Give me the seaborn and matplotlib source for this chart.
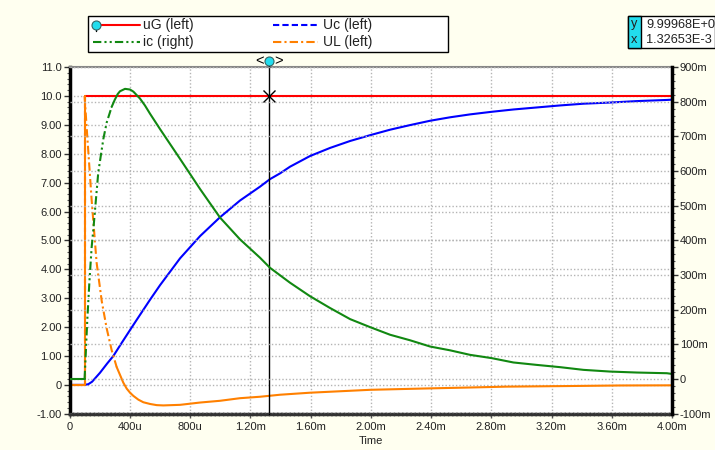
import numpy as np
import seaborn as sns
import matplotlib
matplotlib.use("Agg")
import matplotlib.pyplot as plt
from matplotlib.ticker import FixedLocator, FixedFormatter, AutoMinorLocator
from matplotlib.lines import Line2D
from matplotlib.patches import Rectangle
from matplotlib.transforms import blended_transform_factory

# ---------------- data (time in ms) ----------------
STEP_T = 0.1

t_uG = [0.0, 0.1, 0.1, 4.0]
uG = [0.0, 0.0, 10.0, 10.0]

t_Uc = [0.0, 0.1, 0.125, 0.15, 0.2025, 0.25, 0.291, 0.346, 0.402, 0.446, 0.535,
        0.601, 0.734, 0.867, 0.999, 1.132, 1.265, 1.331, 1.398, 1.464, 1.597,
        1.730, 1.863, 1.995, 2.128, 2.261, 2.394, 2.527, 2.659, 2.803, 2.947,
        3.102, 3.257, 3.412, 3.589, 3.766, 3.966, 4.0]
Uc = [0.0, 0.0, 0.025, 0.11, 0.42, 0.74, 1.0, 1.45, 1.9, 2.25, 2.95,
      3.45, 4.38, 5.15, 5.8, 6.38, 6.86, 7.12, 7.32, 7.55, 7.92,
      8.2, 8.44, 8.64, 8.83, 8.99, 9.14, 9.26, 9.36, 9.45, 9.53,
      9.6, 9.67, 9.73, 9.77, 9.82, 9.86, 9.87]

t_ic = [0.0, 0.1, 0.107, 0.118, 0.132, 0.147, 0.158, 0.191, 0.2245, 0.247,
        0.28, 0.30, 0.32, 0.335, 0.3685, 0.402, 0.424, 0.468, 0.501, 0.535,
        0.601, 0.734, 0.867, 0.999, 1.132, 1.265, 1.331, 1.464, 1.597, 1.730,
        1.863, 1.995, 2.128, 2.261, 2.394, 2.527, 2.659, 2.803, 2.947, 3.102,
        3.257, 3.412, 3.589, 3.766, 3.966, 4.0]
ic = [0.0, 0.0, 0.065, 0.17, 0.28, 0.38, 0.43, 0.596, 0.692, 0.740,
      0.785, 0.805, 0.822, 0.830, 0.837, 0.835, 0.829, 0.809, 0.789, 0.765,
      0.721, 0.635, 0.548, 0.466, 0.403, 0.350, 0.321, 0.278, 0.239, 0.205,
      0.173, 0.150, 0.128, 0.112, 0.094, 0.083, 0.070, 0.0605, 0.048, 0.041,
      0.0345, 0.0267, 0.0218, 0.019, 0.017, 0.015]

t_UL = [0.0, 0.1, 0.1, 0.114, 0.147, 0.180, 0.214, 0.247, 0.280, 0.313,
        0.357, 0.380, 0.402, 0.424, 0.457, 0.490, 0.535, 0.579, 0.623, 0.734,
        0.867, 0.999, 1.132, 1.265, 1.398, 1.597, 1.995, 2.394, 2.659, 2.90,
        3.30, 3.655, 4.0]
UL = [0.0, 0.0, 10.0, 8.9, 6.4, 4.23, 2.9, 1.95, 1.2, 0.62,
      0.08, -0.13, -0.27, -0.38, -0.51, -0.60, -0.66, -0.70, -0.71, -0.69,
      -0.61, -0.55, -0.46, -0.41, -0.34, -0.27, -0.17, -0.12, -0.09, -0.06,
      -0.04, -0.02, -0.015]

cursor_t = 1.32653
cursor_y = 9.99968
readout_y = "9.99968E+0"
readout_x = "1.32653E-3"

x_ticks = [0.0, 0.4, 0.8, 1.2, 1.6, 2.0, 2.4, 2.8, 3.2, 3.6, 4.0]
x_labels = ["0", "400u", "800u", "1.20m", "1.60m", "2.00m", "2.40m",
            "2.80m", "3.20m", "3.60m", "4.00m"]
left_ticks = list(range(-1, 12))
left_labels = ["-1.00", "0", "1.00", "2.00", "3.00", "4.00", "5.00", "6.00",
               "7.00", "8.00", "9.00", "10.0", "11.0"]
right_ticks = [-0.1, 0.0, 0.1, 0.2, 0.3, 0.4, 0.5, 0.6, 0.7, 0.8, 0.9]
right_labels = ["-100m", "0", "100m", "200m", "300m", "400m", "500m",
                "600m", "700m", "800m", "900m"]

legend_names = ["uG (left)", "Uc (left)", "ic (right)", "UL (left)"]

# ---------------- style ----------------
BG = "#FFFFF0"
RED, BLUE, GREEN, ORANGE = "#FF0000", "#0000FF", "#118811", "#FF8000"
LW = 1.5
DASH_DOT_DOT = (0, (4, 1.5, 1, 1.5, 1, 1.5))
DASH_DOT = (0, (4, 1.5, 1, 1.5))
DASHED = (0, (2, 1.5))
TXT = "#222222"

sns.set_theme(style="white")
plt.rcParams['font.family'] = ['Liberation Sans', 'DejaVu Sans']
plt.rcParams['font.size'] = 8

W, H = 715, 450
fig = plt.figure(figsize=(W / 100, H / 100), dpi=100, facecolor=BG)


def fx(px):
    return px / W


def fy(py):
    return 1 - py / H


ax = fig.add_axes([fx(69.5), fy(413.8), fx(672) - fx(69.5), fy(67) - fy(413.8)])
ax.set_facecolor("white")
ax2 = ax.twinx()


def line(axis, t, v, color, ls="-"):
    sns.lineplot(x=np.asarray(t), y=np.asarray(v), ax=axis, color=color,
                 linewidth=LW, linestyle=ls, estimator=None, sort=False,
                 legend=False)


def split_step(t, v, dash_end):
    t = np.asarray(t)
    v = np.asarray(v)
    i0 = int(np.flatnonzero(t == STEP_T)[-1])
    i1 = int(np.searchsorted(t, dash_end))
    return (t[:i0 + 1], v[:i0 + 1]), (t[i0:i1 + 1], v[i0:i1 + 1]), (t[i1:], v[i1:])


# uG: flat, dashed rising edge, flat
tg, vg = np.asarray(t_uG), np.asarray(uG)
line(ax, tg[:2], vg[:2], RED)
line(ax, tg[1:3], vg[1:3], RED, DASHED)
line(ax, tg[2:], vg[2:], RED)

# Uc
line(ax, t_Uc, Uc, BLUE)

# UL: steep part drawn with its dash-dot pattern
pre, steep, rest = split_step(t_UL, UL, 0.313)
line(ax, *pre, ORANGE)
line(ax, *steep, ORANGE, DASH_DOT)
line(ax, *rest, ORANGE)

# ic on the right axis
pre, steep, rest = split_step(t_ic, ic, 0.28)
line(ax2, *pre, GREEN)
line(ax2, *steep, GREEN, DASH_DOT_DOT)
line(ax2, *rest, GREEN)

# ---------------- axes ----------------
ax.set_xlim(0, 4.0)
ax.set_ylim(-1.0, 11.0)
ax2.set_ylim(-0.1, 0.9)

ax.xaxis.set_major_locator(FixedLocator(x_ticks))
ax.xaxis.set_major_formatter(FixedFormatter(x_labels))
ax.yaxis.set_major_locator(FixedLocator(left_ticks))
ax.yaxis.set_major_formatter(FixedFormatter(left_labels))
ax.yaxis.set_minor_locator(AutoMinorLocator(5))
ax2.yaxis.set_major_locator(FixedLocator(right_ticks))
ax2.yaxis.set_major_formatter(FixedFormatter(right_labels))
ax2.yaxis.set_minor_locator(AutoMinorLocator(5))

grid_kw = dict(color="#b4b4b4", linestyle=(0, (1, 1.5)), linewidth=1.0)
ax.grid(True, which="major", axis="both", **grid_kw)
ax2.grid(True, which="major", axis="y", **grid_kw)
ax.set_axisbelow(True)
ax2.set_axisbelow(True)

ax.tick_params(axis="y", which="major", direction="out", length=4, width=1,
               color="#333333", labelcolor=TXT, labelsize=8, pad=1.5, left=True)
ax.tick_params(axis="y", which="minor", direction="out", length=2.5, width=0.8,
               color="#555555", left=True)
ax.tick_params(axis="x", which="major", direction="out", length=3, width=1,
               color="#555555", labelcolor=TXT, labelsize=8, pad=3, bottom=True)
ax2.tick_params(axis="y", which="major", direction="out", length=4, width=1,
                color="#333333", labelcolor=TXT, labelsize=8, pad=1.5, right=True)
ax2.tick_params(axis="y", which="minor", direction="out", length=2.5, width=0.8,
                color="#555555", right=True)
ax.set_xlabel("Time", fontsize=8, color=TXT, labelpad=3)
ax.set_ylabel("")
ax2.set_ylabel("")

for name in ("top", "right", "bottom", "left"):
    ax2.spines[name].set_visible(name == "right")
ax.spines["right"].set_visible(False)
ax.spines["left"].set_color("black")
ax.spines["left"].set_linewidth(2.5)
ax2.spines["right"].set_color("black")
ax2.spines["right"].set_linewidth(2.5)
ax.spines["top"].set_color("#888888")
ax.spines["top"].set_linewidth(1.5)
ax.spines["bottom"].set_color("#333333")
ax.spines["bottom"].set_linewidth(2.5)
ax.spines["bottom"].set_linestyle((0, (0.6, 0.6)))

# ---------------- cursor ----------------
ax.axvline(cursor_t, ymin=0, ymax=1.016, color="black", linewidth=1.0,
           clip_on=False, zorder=5)
ax.plot([cursor_t], [cursor_y], marker="x", color="black", markersize=8,
        markeredgewidth=1.0, zorder=6)
trans = blended_transform_factory(ax.transData, ax.transAxes)
ax.plot([cursor_t], [1.016], marker="o", markersize=6.5, markerfacecolor="#22DDEE",
        markeredgecolor="#336666", markeredgewidth=0.8, transform=trans,
        clip_on=False, zorder=7)
ax.text(cursor_t - 0.035, 1.016, "<", transform=trans, ha="right", va="center",
        fontsize=10.5, color="black", clip_on=False)
ax.text(cursor_t + 0.035, 1.016, ">", transform=trans, ha="left", va="center",
        fontsize=10.5, color="black", clip_on=False)

# ---------------- legend box ----------------
fig.add_artist(Rectangle((fx(88), fy(52)), fx(448) - fx(88), fy(16) - fy(52),
                         transform=fig.transFigure, facecolor="white",
                         edgecolor="black", linewidth=1.0))
entries = [
    (93, 140, 25, RED, "-", legend_names[0], 143),
    (273, 318, 25, BLUE, (0, (3, 1.5)), legend_names[1], 323),
    (93, 140, 42.3, GREEN, DASH_DOT_DOT, legend_names[2], 143),
    (273, 318, 42.3, ORANGE, DASH_DOT, legend_names[3], 323),
]
for x0, x1, yy, col, ls, lab, xt in entries:
    fig.add_artist(Line2D([fx(x0), fx(x1)], [fy(yy), fy(yy)],
                          transform=fig.transFigure, color=col, linewidth=LW,
                          linestyle=ls))
    fig.text(fx(xt), fy(yy), lab, ha="left", va="center", fontsize=10,
             color=TXT)
fig.add_artist(Line2D([fx(96.5), fx(96.5)], [fy(25), fy(30.5)],
                      transform=fig.transFigure, color="black", linewidth=1.0))
fig.add_artist(Line2D([fx(96.5)], [fy(25)], transform=fig.transFigure,
                      marker="o", markersize=6.5, markerfacecolor="#22DDEE",
                      markeredgecolor="#336666", markeredgewidth=0.8))

# ---------------- cursor readout ----------------
fig.add_artist(Rectangle((fx(628), fy(48)), fx(715) - fx(628), fy(16) - fy(48),
                         transform=fig.transFigure, facecolor="white",
                         edgecolor="black", linewidth=1.0))
fig.add_artist(Rectangle((fx(628), fy(48)), fx(641) - fx(628), fy(16) - fy(48),
                         transform=fig.transFigure, facecolor="#22DDEE",
                         edgecolor="black", linewidth=1.0))
fig.text(fx(634.5), fy(24.5), "y", ha="center", va="center", fontsize=9.2, color=TXT)
fig.text(fx(634.5), fy(40), "x", ha="center", va="center", fontsize=9.2, color=TXT)
fig.text(fx(646), fy(24.5), readout_y, ha="left", va="center", fontsize=9.2, color=TXT)
fig.text(fx(646), fy(40), readout_x, ha="left", va="center", fontsize=9.2, color=TXT)

fig.savefig("out.png", dpi=100, facecolor=BG)
